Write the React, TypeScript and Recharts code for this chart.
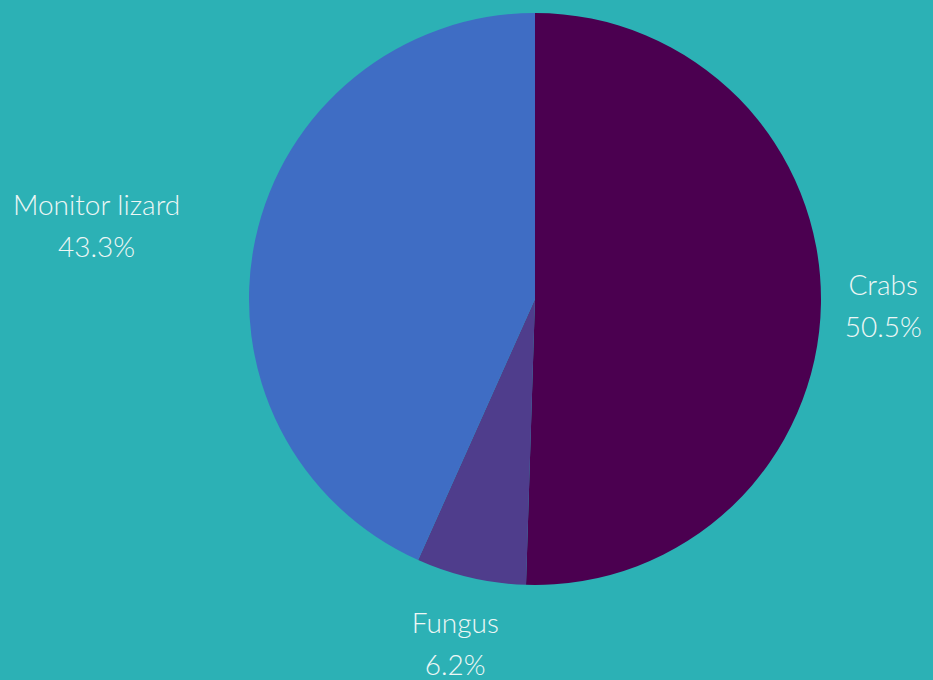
import { Cell, Pie, PieChart } from 'recharts';

const names = ['Crabs', 'Fungus', 'Monitor lizard'];
const shares = [50.5, 6.2, 43.3];
const colors = ['#4b0050', '#4f3d8c', '#3f6dc4'];

const data = names.map((name, i) => ({ name, value: shares[i] }));

const RAD = Math.PI / 180;
const FONT = 'Lato, "Open Sans", sans-serif';

function renderLabel(props: any) {
  const { cx, cy, midAngle, outerRadius, name, value } = props;
  const cos = Math.cos(-midAngle * RAD);
  const sin = Math.sin(-midAngle * RAD);
  const ax = cx + (outerRadius + 26) * cos;
  const ay = cy + (outerRadius + 26) * sin;
  const w = name.length * 14.5;
  const h = 82;
  const bx = ax + (cos * w) / 2 + (cos < -0.5 ? -34 : 0);
  const by = ay + (sin * h) / 2;
  return (
    <text
      x={bx}
      y={by}
      fill="#eef7f5"
      fontFamily={FONT}
      fontWeight={300}
      fontSize={28}
      textAnchor="middle"
    >
      <tspan x={bx} dy={-10}>{name}</tspan>
      <tspan x={bx} dy={42}>{`${value.toFixed(1)}%`}</tspan>
    </text>
  );
}

export default function App() {
  return (
    <div
      style={{
        position: 'absolute',
        left: 0,
        top: 0,
        width: 933,
        height: 680,
        background: '#2cb1b5',
        overflow: 'hidden',
      }}
    >
      <PieChart width={933} height={680} margin={{ top: 0, right: 0, bottom: 0, left: 0 }}>
        <Pie
          data={data}
          dataKey="value"
          nameKey="name"
          cx={535}
          cy={299}
          outerRadius={286}
          startAngle={90}
          endAngle={-270}
          stroke="none"
          label={renderLabel}
          labelLine={false}
          isAnimationActive={false}
        >
          {data.map((entry, index) => (
            <Cell key={`cell-${index}`} fill={colors[index]} />
          ))}
        </Pie>
      </PieChart>
    </div>
  );
}
